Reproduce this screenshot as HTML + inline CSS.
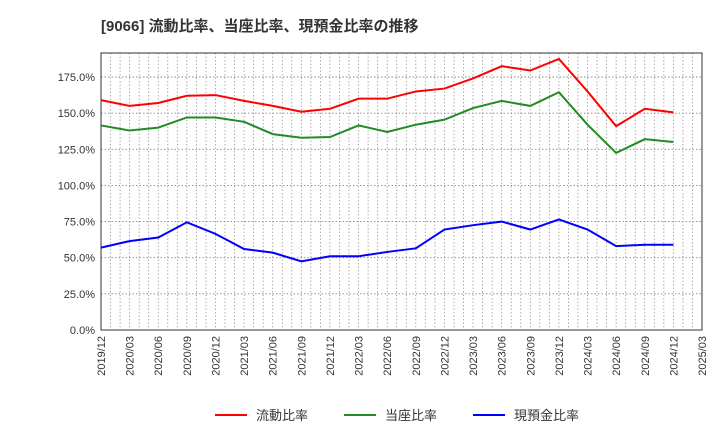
<!DOCTYPE html>
<html><head><meta charset="utf-8"><style>
body{margin:0;background:#fff;font-family:"Liberation Sans","Noto Sans CJK JP",sans-serif;}
</style></head><body>
<svg id="chart" width="720" height="440" xmlns="http://www.w3.org/2000/svg" font-family="Liberation Sans, Noto Sans CJK JP, sans-serif">
<text x="101" y="31" font-size="15" font-weight="bold" fill="#333">[9066]  流動比率、当座比率、現預金比率の推移</text>
<g id="grid"></g>
<g id="axes"></g>
<g id="series"></g>
<g id="legend"></g>
</svg>
<script>
const xTickLabels=["2019/12","2020/03","2020/06","2020/09","2020/12","2021/03","2021/06","2021/09","2021/12","2022/03","2022/06","2022/09","2022/12","2023/03","2023/06","2023/09","2023/12","2024/03","2024/06","2024/09","2024/12","2025/03"];
const yTicks=[0,25,50,75,100,125,150,175];
const currentRatio=[159,155,157,162,162.5,158.5,155,151,153,160,160,165,167,174,182.5,179.5,187.5,165,141,153,150.5];
const quickRatio=[141.5,138,140,147,147,144,135.5,133,133.5,141.5,137,142,145.5,153.5,158.5,155,164.5,142,122.5,132,130];
const cashRatio=[57,61.5,64,74.5,66.5,56,53.5,47.5,51,51,54,56.5,69.5,72.5,75,69.5,76.5,69.5,58,59,59];
const seriesNames=["流動比率","当座比率","現預金比率"];
const L=101,R=702,T=53,B=330;
const NS="http://www.w3.org/2000/svg";
const totalMonths=(xTickLabels.length-1)*3;
const xm=m=>L+(R-L)*m/totalMonths;
const xq=i=>xm(i*3);
const y=v=>B-(B-77)*v/175;
function mk(tag,attrs,parent){const e=document.createElementNS(NS,tag);for(const k in attrs)e.setAttribute(k,attrs[k]);parent.appendChild(e);return e;}
const grid=document.getElementById('grid'),axes=document.getElementById('axes'),ser=document.getElementById('series'),leg=document.getElementById('legend');
for(let m=1;m<totalMonths;m++){const l=mk('line',{x1:xm(m),x2:xm(m),y1:T,y2:B,stroke:'#999','stroke-dasharray':'1.5,2','stroke-width':0.8},grid);

}
yTicks.forEach(v=>{if(v>0){const l=mk('line',{x1:L,x2:R,y1:y(v),y2:y(v),stroke:'#888','stroke-dasharray':'1.5,2','stroke-width':0.9},grid);

}
const t=mk('text',{x:L-6,y:y(v)+4,'text-anchor':'end','font-size':11,fill:'#333'},axes);t.textContent=v.toFixed(1)+'%';

});
const fr=mk('rect',{x:L,y:T,width:R-L,height:B-T,fill:'none',stroke:'#333','stroke-width':1},axes);


xTickLabels.forEach((s,i)=>{const x=xq(i);const t=mk('text',{x:x+4,y:B+6,'text-anchor':'end','font-size':11,fill:'#333',transform:`rotate(-90 ${x+4} ${B+6})`},axes);t.textContent=s;

});
const cols=['#ff0000','#228b22','#0000ff'];
[currentRatio,quickRatio,cashRatio].forEach((d,k)=>{const p=mk('polyline',{points:d.map((v,i)=>xq(i)+','+y(v)).join(' '),fill:'none',stroke:cols[k],'stroke-width':2},ser);

});
const lx=[215,344,473];
seriesNames.forEach((n,k)=>{const g=mk('g',{},leg);


mk('line',{x1:lx[k],x2:lx[k]+32,y1:415,y2:415,stroke:cols[k],'stroke-width':2},g);
const t=mk('text',{x:lx[k]+41,y:420,'font-size':13,fill:'#333'},g);t.textContent=n;});
</script>
</body></html>
